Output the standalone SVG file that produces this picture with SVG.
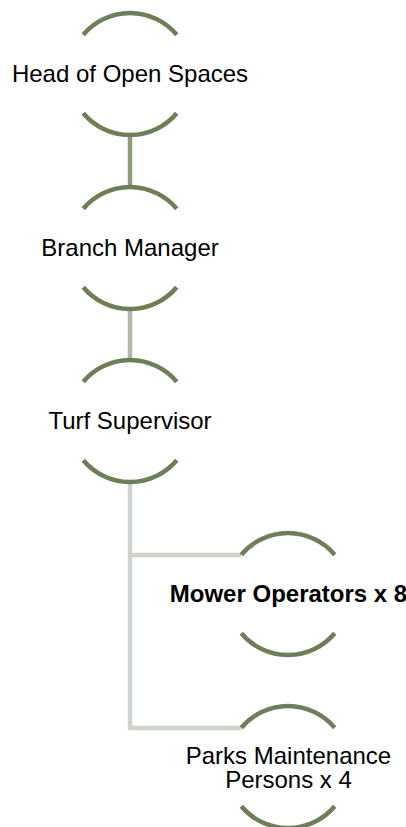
<svg xmlns="http://www.w3.org/2000/svg" width="406" height="827" viewBox="0 0 406 827">
<style>
.arc{fill:none;stroke:#6e7f58;stroke-width:4.5;stroke-linecap:butt}
.t{font-family:"Liberation Sans",Arial,sans-serif;font-size:24px;fill:#000;text-anchor:middle}
.b{font-weight:bold}
.c{fill:none;stroke-width:4.5;stroke-linejoin:round}
</style>
<defs>
<g id="ring">
<path class="arc" d="M-46.7,-39.2 A61,61 0 0 1 46.7,-39.2"/>
<path class="arc" d="M-46.7,39.2 A61,61 0 0 0 46.7,39.2"/>
</g>
</defs>
<g id="connectors">
<line class="c" x1="130" y1="135" x2="130" y2="187" stroke="#8c9c7c"/>
<line class="c" x1="130" y1="309" x2="130" y2="360" stroke="#b1baa8"/>
<path class="c" d="M130,482 V728 H241.3 M130,555 H241.3" stroke="#cdd3c9"/>
</g>
<g id="node1">
<use href="#ring" x="130" y="74"/>
<text class="t" x="130" y="82">Head of Open Spaces</text>
</g>
<g id="node2">
<use href="#ring" x="130" y="248"/>
<text class="t" x="130" y="256">Branch Manager</text>
</g>
<g id="node3">
<use href="#ring" x="130" y="421"/>
<text class="t" x="130" y="428.5">Turf Supervisor</text>
</g>
<g id="node4">
<use href="#ring" x="288" y="594"/>
<text class="t b" x="288.5" y="602">Mower Operators x 8</text>
</g>
<g id="node5">
<use href="#ring" x="288" y="767"/>
<text class="t" x="288.5" y="764">Parks Maintenance</text>
<text class="t" x="288.5" y="787.5">Persons x 4</text>
</g>
</svg>
